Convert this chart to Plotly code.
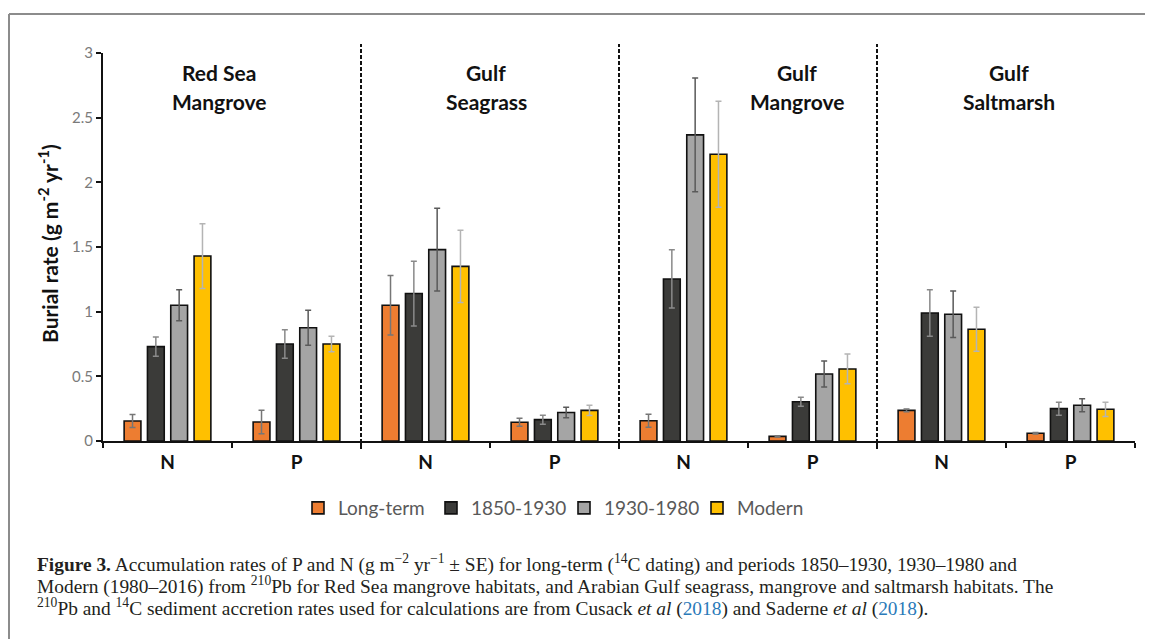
import plotly.graph_objects as go

habitats = ["Red Sea Mangrove", "Gulf Seagrass", "Gulf Mangrove", "Gulf Saltmarsh"]
habitat_line1 = ["Red Sea", "Gulf", "Gulf", "Gulf"]
habitat_line2 = ["Mangrove", "Seagrass", "Mangrove", "Saltmarsh"]
nutrients = ["N", "P"]
series_names = ["Long-term", "1850-1930", "1930-1980", "Modern"]

# values per category: RS-N, RS-P, GS-N, GS-P, GM-N, GM-P, GSM-N, GSM-P
long_term = [0.155, 0.147, 1.05, 0.145, 0.157, 0.036, 0.237, 0.06]
p1850_1930 = [0.73, 0.75, 1.14, 0.165, 1.253, 0.304, 0.99, 0.25]
p1930_1980 = [1.05, 0.876, 1.48, 0.22, 2.367, 0.518, 0.98, 0.276]
modern = [1.43, 0.75, 1.35, 0.237, 2.217, 0.557, 0.864, 0.245]

long_term_se = [0.05, 0.09, 0.23, 0.03, 0.05, 0.005, 0.01, 0.005]
p1850_1930_se = [0.075, 0.11, 0.25, 0.035, 0.225, 0.035, 0.18, 0.05]
p1930_1980_se = [0.12, 0.135, 0.32, 0.04, 0.44, 0.1, 0.18, 0.05]
modern_se = [0.25, 0.06, 0.28, 0.04, 0.41, 0.115, 0.17, 0.055]

y_ticks = [0, 0.5, 1, 1.5, 2, 2.5, 3]
y_tick_text = ["0", "0.5", "1", "1.5", "2", "2.5", "3"]

categories = [f"{h} {n}" for h in habitats for n in nutrients]
tick_text = [f"<b>{n}</b>" for h in habitats for n in nutrients]

values = [long_term, p1850_1930, p1930_1980, modern]
errors = [long_term_se, p1850_1930_se, p1930_1980_se, modern_se]
colors = ["#ED7D31", "#3B3B39", "#A5A5A5", "#FFC000"]
err_colors = ["#767676", "#8a8a8a", "#5a5a5a", "#b4b4b4"]

fig = go.Figure()
for name, vals, errs, col, ecol in zip(series_names, values, errors, colors, err_colors):
    fig.add_trace(go.Bar(
        x=categories, y=vals, name=name,
        marker=dict(color=col, line=dict(color="#111111", width=1.6)),
        error_y=dict(type="data", array=errs, visible=True, color=ecol, thickness=1.5, width=3),
    ))

W, H = 1153, 639
OFF = 8  # page body margin
# plot area in page pixels: x 103..1135, y 53..441
PL, PR, PT, PB = 103, 1135, 53, 441
LEFT = PL - OFF
TOP = PT - OFF
RIGHT = W - (PR - OFF)
BOTTOM = H - (PB - OFF)
pw = PR - PL
ph = PB - PT

def px_x(px):
    return (px - PL) / pw

def px_y(py):
    return (PB - py) / ph

shapes = []
for xb in [1.5, 3.5, 5.5]:
    shapes.append(dict(type="line", xref="x", yref="paper", x0=xb, x1=xb,
                       y0=px_y(449), y1=px_y(44),
                       line=dict(color="#111111", width=2, dash="4px,2px")))
# outer frame (top + left)
shapes.append(dict(type="line", xref="paper", yref="paper", x0=px_x(9), x1=px_x(1170),
                   y0=px_y(14), y1=px_y(14), line=dict(color="#8c8c8c", width=2)))
shapes.append(dict(type="line", xref="paper", yref="paper", x0=px_x(9), x1=px_x(9),
                   y0=px_y(14), y1=px_y(660), line=dict(color="#8c8c8c", width=2)))

annotations = []
label_x = [0.40, 2.47, 4.88, 6.52]
for lx, l1, l2 in zip(label_x, habitat_line1, habitat_line2):
    for txt, py in ((l1, 72), (l2, 101)):
        annotations.append(dict(x=lx, y=px_y(py), xref="x", yref="paper", text=f"<b>{txt}</b>",
                                showarrow=False, font=dict(family="Lato", size=21, color="#111111"),
                                xanchor="center", yanchor="middle", align="center"))

annotations.append(dict(x=px_x(48), y=px_y(244), xref="paper", yref="paper",
                        text="<b>Burial rate (g m<sup>-2</sup> yr<sup>-1</sup>)</b>",
                        textangle=-90, showarrow=False,
                        font=dict(family="Lato", size=21, color="#111111"),
                        xanchor="center", yanchor="middle"))

blue = "#2a7ab9"
caption_lines = [
    "<b>Figure 3.</b> Accumulation rates of P and N (g m<sup>−2</sup> yr<sup>−1</sup> ± SE) for long-term "
    "(<sup>14</sup>C dating) and periods 1850–1930, 1930–1980 and",
    "Modern (1980–2016) from <sup>210</sup>Pb for Red Sea mangrove habitats, and Arabian Gulf seagrass, "
    "mangrove and saltmarsh habitats. The",
    "<sup>210</sup>Pb and <sup>14</sup>C sediment accretion rates used for calculations are from Cusack "
    f"<i>et al</i> (<span style='color:{blue}'>2018</span>) and Saderne <i>et al</i> "
    f"(<span style='color:{blue}'>2018</span>).",
]
for txt, py in zip(caption_lines, [563, 585, 607]):
    annotations.append(dict(x=px_x(35), y=px_y(py), xref="paper", yref="paper", text=txt,
                            showarrow=False, align="left", xanchor="left", yanchor="middle",
                            font=dict(family="Liberation Serif", size=19.4, color="#231f20")))

fig.update_layout(
    width=W, height=H,
    margin=dict(l=LEFT, r=RIGHT, t=TOP, b=BOTTOM, pad=0),
    plot_bgcolor="white", paper_bgcolor="white",
    barmode="group", bargap=0.277, bargroupgap=0.28,
    showlegend=True,
    legend=dict(orientation="h", x=px_x(564), xanchor="center", y=px_y(508), yanchor="middle",
                font=dict(family="Lato", size=19, color="#595959"),
                itemwidth=30, tracegroupgap=0, bgcolor="rgba(0,0,0,0)",
                entrywidth=88, entrywidthmode="pixels"),
    shapes=shapes, annotations=annotations,
    font=dict(family="Lato"),
)
fig.update_xaxes(
    type="category", categoryorder="array", categoryarray=categories,
    tickvals=categories, ticktext=tick_text, tickson="boundaries",
    ticks="outside", ticklen=5, tickwidth=1.5, tickcolor="#111111",
    showline=True, linecolor="#111111", linewidth=2,
    tickfont=dict(family="Lato", size=19, color="#111111"),
    ticklabelstandoff=3,
    showgrid=False, zeroline=False, range=[-0.5, 7.5],
)
fig.update_yaxes(
    range=[0, 3], tickvals=y_ticks, ticktext=y_tick_text,
    ticks="outside", ticklen=5, tickwidth=1.5, tickcolor="#111111",
    showline=True, linecolor="#111111", linewidth=2,
    tickfont=dict(family="Lato", size=15, color="#7a7a7a"),
    showgrid=False, zeroline=False,
)

fig.write_html("out.html")
